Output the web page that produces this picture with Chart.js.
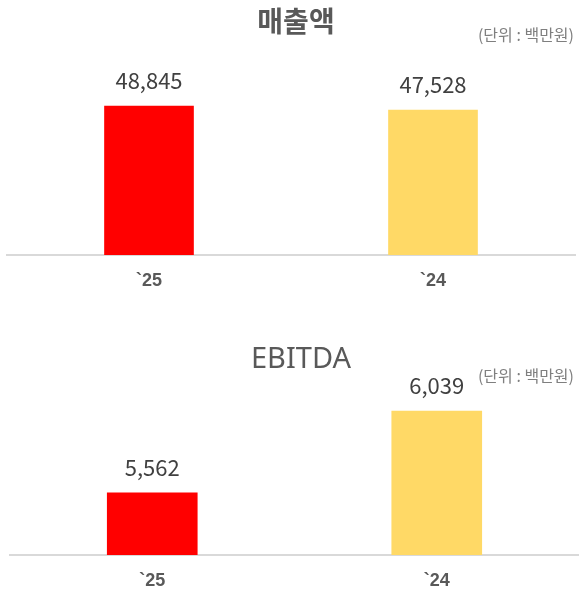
<!DOCTYPE html>
<html>
<head>
<meta charset="utf-8">
<script src="https://cdn.jsdelivr.net/npm/chart.js@4/dist/chart.umd.min.js"></script>
<style>
  html, body { margin: 0; padding: 0; background: #fff; width: 579px; height: 593px; overflow: hidden; }
  body { position: relative; font-family: "Noto Sans CJK KR", "Noto Sans", sans-serif; }
  .box { position: absolute; left: 0; }
  .txt { position: absolute; white-space: nowrap; line-height: 1; }
  .title { color: #595959; font-size: 28px; transform: translate(-50%, -50%); }
  .unit { color: #7f7f7f; font-size: 16px; transform: translateY(-50%); }
</style>
</head>
<body>
<div class="box" style="top:0;width:579px;height:300px;"><canvas id="c1"></canvas></div>
<div class="box" style="top:300px;width:579px;height:293px;"><canvas id="c2"></canvas></div>
<div class="txt title" style="left:296px;top:20px;font-weight:bold;">매출액</div>
<div class="txt unit" style="right:5px;top:34px;">(단위 : 백만원)</div>
<div class="txt title" style="left:301px;top:356px;font-family:'Noto Sans','Noto Sans CJK KR',sans-serif;font-size:29px;">EBITDA</div>
<div class="txt unit" style="right:5px;top:375px;">(단위 : 백만원)</div>
<script>
const categories = ["`25", "`24"];
const salesValues = [48845, 47528];
const ebitdaValues = [5562, 6039];
const barColors = ["#FF0000", "#FFD966"];
const salesAxis = { min: 0, max: 60000 };
const ebitdaAxis = { min: 5200, max: 6400 };

const FONT = "'Noto Sans CJK KR', 'Noto Sans', sans-serif";

const valueLabels = {
  id: 'valueLabels',
  afterDatasetsDraw(chart) {
    const ctx = chart.ctx;
    const meta = chart.getDatasetMeta(0);
    const data = chart.data.datasets[0].data;
    ctx.save();
    ctx.font = "22px " + FONT;
    ctx.fillStyle = "#404040";
    ctx.textAlign = "center";
    ctx.textBaseline = "middle";
    meta.data.forEach((bar, i) => {
      ctx.fillText(data[i].toLocaleString('en-US'), bar.x, bar.y - 25.5);
    });
    ctx.restore();
  }
};

function makeChart(id, values, axis, pad, axisHeight, barW) {
  return new Chart(document.getElementById(id), {
    type: 'bar',
    data: {
      labels: categories,
      datasets: [{
        data: values,
        backgroundColor: barColors,
        borderWidth: 0,
        barThickness: barW
      }]
    },
    options: {
      responsive: true,
      maintainAspectRatio: false,
      animation: false,
      events: [],
      layout: { padding: pad },
      plugins: { legend: { display: false }, tooltip: { enabled: false }, title: { display: false } },
      scales: {
        y: { display: false, min: axis.min, max: axis.max },
        x: {
          grid: { display: false, drawTicks: false },
          border: { display: true, color: "#D9D9D9", width: 2 },
          ticks: { color: "#595959", font: { family: "'Liberation Sans', Arial, sans-serif", size: 18, weight: 'bold' }, padding: 15 },
          afterFit(scale) { scale.height = axisHeight; }
        }
      }
    },
    plugins: [valueLabels]
  });
}

makeChart('c1', salesValues, salesAxis, { top: 72, left: 7, right: 4, bottom: 0 }, 45, 89);
makeChart('c2', ebitdaValues, ebitdaAxis, { top: 49, left: 10, right: 0, bottom: 0 }, 38, 90);
</script>
</body>
</html>
